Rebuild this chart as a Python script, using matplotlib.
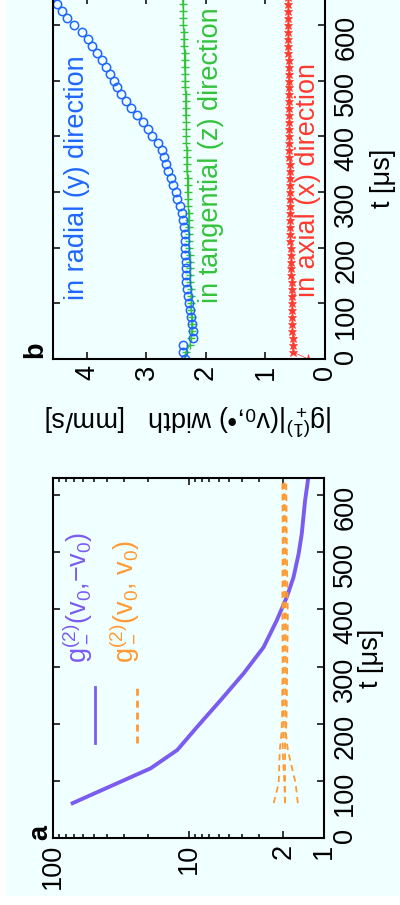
import matplotlib
matplotlib.use('Agg')
import matplotlib.pyplot as plt
from matplotlib.ticker import LogLocator, NullFormatter
from matplotlib.patches import Rectangle
from matplotlib.lines import Line2D

plt.rcParams['font.family'] = ['Liberation Sans', 'DejaVu Sans']
plt.rcParams['mathtext.fontset'] = 'custom'
plt.rcParams['mathtext.rm'] = 'Liberation Sans'
plt.rcParams['mathtext.it'] = 'Liberation Sans'
plt.rcParams['mathtext.bf'] = 'Liberation Sans:bold'

FS = 19.5
BG = '#F0FFFF'
PURPLE = '#7B5CF0'
ORANGE = '#FF9A33'
BLUE = '#1F66FF'
GREEN = '#33C23A'
RED = '#FF3B30'

#===== panel a : g2 correlation vs time =====
t_anti = [61, 122, 154, 195, 241, 288, 334, 381, 422, 456, 497, 532, 590, 628]
g2_anti = [71.6, 19.0, 12.1, 8.6, 5.8, 3.92, 2.79, 2.23, 1.88, 1.68, 1.54,
           1.46, 1.38, 1.31]

t_same = [61, 96, 154, 183, 212, 300, 387, 500, 561, 628]
g2_same_1 = [2.35, 2.16, 2.12, 2.06, 2.04, 2.02, 2.03, 2.02, 2.02, 2.03]
g2_same_2 = [1.94, 1.96, 2.02, 2.00, 1.99, 1.98, 1.97, 1.98, 1.98, 1.99]
g2_same_3 = [1.94, 1.94, 1.94, 1.93, 1.93, 1.92, 1.91, 1.93, 1.94, 1.95]
g2_same_4 = [1.56, 1.62, 1.85, 1.91, 1.89, 1.87, 1.85, 1.88, 1.89, 1.90]

a_xticks = [1, 2, 10, 100]
a_xticklabels = ['1', '2', '10', '100']
t_ticks = [0, 100, 200, 300, 400, 500, 600]

#===== panel b : g1 width vs time =====
t_b = [0, 12.5, 25, 37.5, 50, 62.5, 75, 87.5, 100, 112.5, 125, 137.5, 150,
       162.5, 175, 187.5, 200, 212.5, 225, 237.5, 250, 262.5, 275, 287.5,
       300, 312.5, 325, 337.5, 350, 362.5, 375, 387.5, 400, 412.5, 425,
       437.5, 450, 462.5, 475, 487.5, 500, 512.5, 525, 537.5, 550, 562.5,
       575, 587.5, 600, 612.5, 625, 637.5, 650]
w_radial = [2.35, 2.39, 2.39, 2.21, 2.22, 2.23, 2.25, 2.27, 2.29, 2.31,
            2.32, 2.33, 2.33, 2.34, 2.34, 2.35, 2.35, 2.35, 2.36, 2.37,
            2.39, 2.41, 2.44, 2.48, 2.51, 2.55, 2.59, 2.63, 2.67, 2.70,
            2.74, 2.81, 2.90, 2.97, 3.05, 3.16, 3.26, 3.35, 3.43, 3.50,
            3.55, 3.61, 3.68, 3.75, 3.83, 3.92, 3.99, 4.08, 4.22, 4.33,
            4.42, 4.51, 4.58]
w_tang = [2.36, 2.34, 2.27, 2.25, 2.24, 2.24, 2.24, 2.25, 2.25, 2.25,
          2.25, 2.26, 2.26, 2.26, 2.27, 2.27, 2.28, 2.28, 2.28, 2.29,
          2.29, 2.29, 2.30, 2.30, 2.31, 2.31, 2.31, 2.32, 2.32, 2.32,
          2.32, 2.33, 2.33, 2.33, 2.33, 2.34, 2.34, 2.34, 2.34, 2.35,
          2.35, 2.35, 2.36, 2.36, 2.36, 2.37, 2.37, 2.37, 2.38, 2.38,
          2.38, 2.39, 2.39]
w_axial = [0.28, 0.54, 0.54, 0.54, 0.55, 0.55, 0.55, 0.55, 0.56, 0.56,
           0.56, 0.56, 0.57, 0.57, 0.57, 0.57, 0.57, 0.58, 0.58, 0.58,
           0.58, 0.58, 0.58, 0.59, 0.59, 0.59, 0.59, 0.59, 0.59, 0.60,
           0.60, 0.60, 0.60, 0.60, 0.60, 0.60, 0.61, 0.61, 0.61, 0.61,
           0.61, 0.61, 0.61, 0.61, 0.62, 0.62, 0.62, 0.62, 0.62, 0.62,
           0.62, 0.62, 0.62]
b_xticks = [0, 1, 2, 3, 4]


def style(ax):
    ax.set_facecolor(BG)
    for s in ax.spines.values():
        s.set_linewidth(1.5)
    ax.tick_params(axis='both', which='both', direction='in', top=True,
                   bottom=True, left=True, right=True, labelleft=False,
                   labelright=True, labelsize=FS, width=1.1)
    ax.tick_params(axis='both', which='major', length=5)
    ax.tick_params(axis='both', which='minor', length=3)
    ax.tick_params(axis='x', labelrotation=90, pad=4)
    ax.tick_params(axis='y', labelrotation=90, pad=6)
    ax.set_yticks(t_ticks)
    ax.yaxis.set_label_position('right')


def vtext(ax, x, y, s, color, **kw):
    # rotated label: x = baseline position, y = start of the text
    ax.text(x, y, s, color=color, fontsize=FS, rotation=90,
            rotation_mode='anchor', ha='left', va='baseline',
            transform=ax.transAxes, **kw)


fig = plt.figure(figsize=(4.0, 9.05), dpi=100)
fig.patch.set_facecolor('white')
fig.add_artist(Rectangle((0.015, 0.011), 0.985, 0.989, transform=fig.transFigure,
                         color=BG, zorder=-10))

# ----- panel a -----
ax = fig.add_axes([53/400, 67/905, 271/400, 360/905])
style(ax)
ax.set_xscale('log')
ax.plot(g2_anti, t_anti, color=PURPLE, lw=2.8, solid_joinstyle='round')
for g in (g2_same_1, g2_same_2, g2_same_3, g2_same_4):
    ax.plot(g, t_same, color=ORANGE, lw=1.3, ls=(0, (3.5, 2.5)))
ax.set_xlim(100, 1)
ax.set_ylim(0, 630)
ax.set_xticks(a_xticks)
ax.set_xticklabels(a_xticklabels)
ax.xaxis.set_minor_locator(LogLocator(base=10, subs=range(2, 10)))
ax.xaxis.set_minor_formatter(NullFormatter())
ax.set_ylabel('t [μs]', fontsize=FS)
ax.yaxis.set_label_coords(1.125, 0.5)
vtext(ax, 0.118, 0.486, r'g$_-^{(2)}$(v$_0$,−v$_0$)', PURPLE)
vtext(ax, 0.292, 0.486, r'g$_-^{(2)}$(v$_0$, v$_0$)', ORANGE)
ax.add_line(Line2D([0.155, 0.155], [0.264, 0.419], color=PURPLE, lw=2.0,
                   transform=ax.transAxes))
ax.add_line(Line2D([0.31, 0.31], [0.264, 0.419], color=ORANGE, lw=2.0,
                   ls=(0, (2.5, 1.8)), transform=ax.transAxes))

# ----- panel b -----
ax = fig.add_axes([53/400, 546/905, 272/400, 362/905])
style(ax)
ax.plot(w_tang, t_b, color=GREEN, lw=0.8, marker='+', ms=6, mew=1.0)
ax.plot(w_axial, t_b, color=RED, lw=0.5, marker='*', ms=6.5, mew=0.5)
ax.plot(w_radial, t_b, ls='none', marker='o', ms=6, mfc='none', mec=BLUE, mew=1.1)
ax.set_xlim(4.57, 0)
ax.set_ylim(0, 650)
ax.set_xticks(b_xticks)
ax.set_ylabel('t [μs]', fontsize=FS)
ax.yaxis.set_label_coords(1.165, 0.5)
ax.set_xlabel(r'|g$_+^{(1)}$|(v$_0$,•) width   [mm/s]', fontsize=FS, rotation=180)
ax.xaxis.set_label_coords(0.5, -0.125)
vtext(ax, 0.114, 0.163, 'in radial (y) direction', BLUE)
vtext(ax, 0.607, 0.155, 'in tangential (z) direction', GREEN)
vtext(ax, 0.963, 0.171, 'in axial (x) direction', RED)

# panel letters
fig.text(47/400, 65/905, 'a', fontsize=FS, fontweight='bold', rotation=90,
         rotation_mode='anchor', ha='left', va='baseline')
fig.text(42/400, 547/905, 'b', fontsize=FS, fontweight='bold', rotation=90,
         rotation_mode='anchor', ha='left', va='baseline')

fig.savefig('out.png', dpi=100, facecolor=fig.get_facecolor())
